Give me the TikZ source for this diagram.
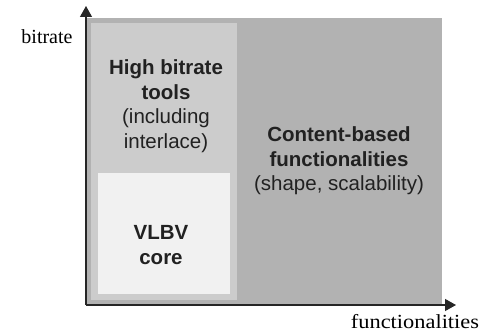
\documentclass[tikz,border=0pt]{standalone}
\usepackage{fontspec}
\setmainfont{Liberation Sans}
\newfontfamily\axisfont{Liberation Serif}
\newfontfamily\wideaxisfont[FakeStretch=1.12]{Liberation Serif}
\usetikzlibrary{arrows.meta}
\definecolor{darkregion}{gray}{0.70}
\definecolor{lightregion}{gray}{0.80}
\definecolor{coreregion}{gray}{0.945}
\definecolor{inktext}{gray}{0.13}
\begin{document}
\begin{tikzpicture}[x=1pt,y=-1pt,
    region/.style={inner sep=0pt,outer sep=0pt,anchor=north west},
    boxtext/.style={align=center,inner sep=0pt,text=inktext,font=\fontsize{20.5}{24.5}\selectfont},
    axislabel/.style={inner sep=0pt,text=black,font=\axisfont\fontsize{20}{22}\selectfont},
    axis/.style={draw=black!85,line width=1.2pt,-{Triangle[length=11pt,width=12pt]}}]
\useasboundingbox (0,0) rectangle (485,334);
% regions
\node[region,fill=darkregion,minimum width=355pt,minimum height=287pt] (content) at (87,18) {};
\node[region,fill=lightregion,minimum width=146pt,minimum height=277pt] (high) at (91,23) {};
\node[region,fill=coreregion,minimum width=132pt,minimum height=121pt] (core) at (98,173) {};
% texts
\node[boxtext] (hightext) at (166,106) {\textbf{High bitrate}\\\textbf{tools}\\(including\\interlace)};
\node[boxtext] (coretext) at (161,245) {\textbf{VLBV}\\\textbf{core}};
\node[boxtext] (contenttext) at (339,161) {\textbf{Content-based}\\\textbf{functionalities}\\(shape, scalability)};
% axes
\coordinate (origin) at (86,305);
\coordinate (ytop) at (86,6);
\coordinate (xend) at (456,305);
\draw[axis] (origin) -- (ytop);
\draw[axis] (origin) -- (xend);
\node[axislabel] (ylabel) at (47,37) {bitrate};
\node[axislabel,font=\wideaxisfont\fontsize{20}{22}\selectfont] (xlabel) at (415,322) {functionalities};
\end{tikzpicture}
\end{document}
